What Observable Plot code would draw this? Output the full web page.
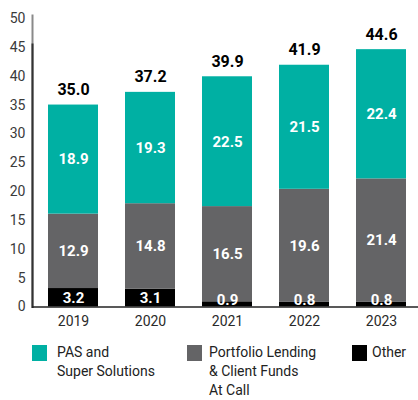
<!DOCTYPE html>
<html><head><meta charset="utf-8">
<script src="https://cdn.jsdelivr.net/npm/d3@7"></script>
<script src="https://cdn.jsdelivr.net/npm/@observablehq/plot@0.6"></script>
<style>
body{margin:0;background:#fff;font-family:Roboto,sans-serif;}
#legend{display:flex;padding-left:32px;margin-top:8px;font-size:14px;line-height:19px;color:#222}
.item{display:flex;align-items:flex-start;flex:none}
.sw{width:15px;height:16px;margin-top:1.5px;flex:none}
</style></head><body><div id="chart"></div><div id="legend"></div>
<script>
const years = ["2019","2020","2021","2022","2023"];
const other = [3.2,3.1,0.9,0.8,0.8];
const portfolio = [12.9,14.8,16.5,19.6,21.4];
const pas = [18.9,19.3,22.5,21.5,22.4];
const totals = [35.0,37.2,39.9,41.9,44.6];
const series = ["Other","Portfolio Lending & Client Funds At Call","PAS and Super Solutions"];
const legendLabels = ["PAS and<br>Super Solutions","Portfolio Lending<br>&amp; Client Funds<br>At Call","Other"];
const colors = ["#000000","#646466","#00B0A3"];
const yTicks = [0,5,10,15,20,25,30,35,40,45,50];

const values = [other, portfolio, pas];
const rows = [];
years.forEach((yr, i) => {
  let base = 0;
  values.forEach((arr, s) => {
    const v = arr[i];
    rows.push({year: yr, series: series[s], value: v, y1: base, y2: base + v,
               ly: Math.max(base + v / 2, s === 0 ? 1.1 : 0)});
    base += v;
  });
});
const totalRows = years.map((yr, i) => ({year: yr, total: totals[i]}));

const chart = Plot.plot({
  width: 418, height: 335,
  marginLeft: 32, marginRight: 0, marginTop: 15, marginBottom: 28.5,
  style: {fontFamily: "Roboto, sans-serif", fontSize: "14px", background: "#fff"},
  x: {domain: years, range: [32, 421], paddingInner: 0.357, paddingOuter: 0.18},
  y: {domain: [0, 50], range: [306.5, 18]},
  color: {domain: series, range: colors},
  marks: [
    Plot.rectY(rows, {x: "year", y1: "y1", y2: "y2", fill: "series"}),
    Plot.text(rows, {x: "year", y: "ly", text: d => d.value.toFixed(1), fill: "#fff",
      fontSize: 15, fontWeight: "bold"}),
    Plot.text(totalRows, {x: "year", y: "total", text: d => d.total.toFixed(1), fill: "#000",
      fontSize: 16, fontWeight: "bold", dy: -15}),
    Plot.frame({anchor: "left", stroke: "#8a8a8a", strokeWidth: 2}),
    Plot.frame({anchor: "left", stroke: "#333", strokeWidth: 2, insetTop: 29}),
    Plot.ruleY([0], {stroke: "#222", strokeWidth: 1.5}),
    Plot.axisY({ticks: yTicks, tickSize: 0, tickPadding: 7, fontSize: 14, color: "#3a3a3a", label: null}),
    Plot.axisX({tickSize: 0, tickPadding: 9, fontSize: 14, color: "#2a2a2a", label: null})
  ]
});
document.getElementById("chart").appendChild(chart);

const legend = document.getElementById("legend");
const order = [2, 1, 0];
const widths = [155, 165, 60];
const gaps = [10, 7, 5];
order.forEach((s, k) => {
  const item = document.createElement("div");
  item.className = "item";
  item.style.width = widths[k] + "px";
  item.innerHTML = `<div class="sw" style="background:${colors[s]};margin-right:${gaps[k]}px"></div><div>${legendLabels[k]}</div>`;
  legend.appendChild(item);
});
</script></body></html>
